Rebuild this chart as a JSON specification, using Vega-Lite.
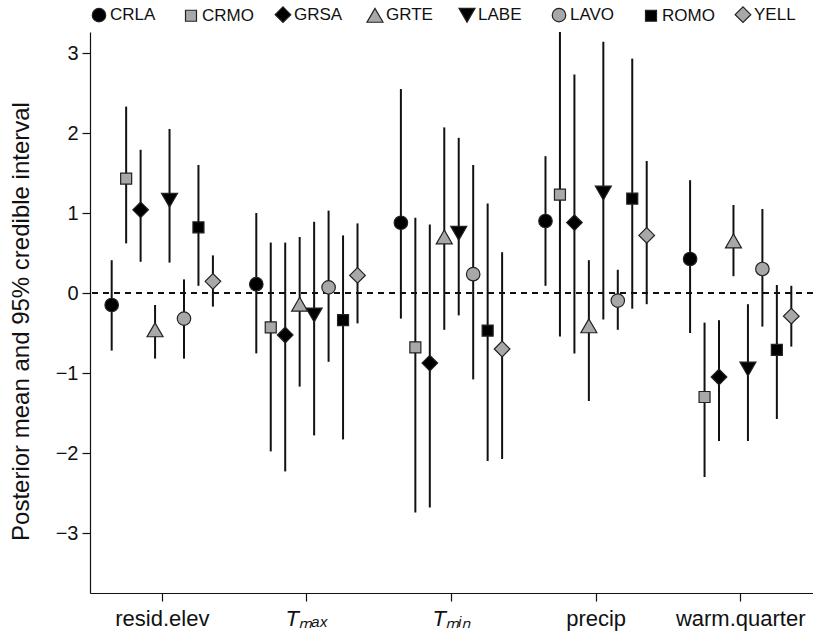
{
  "$schema": "https://vega.github.io/schema/vega-lite/v6.json",
  "autosize": {"type": "none"},
  "padding": {"left": 90, "top": 32, "right": 0, "bottom": 44},
  "width": 723,
  "height": 561,
  "background": "white",
  "config": {
    "font": "Liberation Sans",
    "view": {"stroke": null},
    "axis": {"domainColor": "#111", "tickColor": "#111", "labelColor": "#111", "titleColor": "#111", "grid": false, "tickSize": 8, "labelFont": "Liberation Sans", "titleFont": "Liberation Sans", "labelFontWeight": "normal", "titleFontWeight": "normal"}
  },
  "data": {"values": [
    {"variable": "resid.elev", "site": "CRLA", "mean": -0.15, "lower": -0.72, "upper": 0.41},
    {"variable": "resid.elev", "site": "CRMO", "mean": 1.43, "lower": 0.62, "upper": 2.33},
    {"variable": "resid.elev", "site": "GRSA", "mean": 1.04, "lower": 0.39, "upper": 1.79},
    {"variable": "resid.elev", "site": "GRTE", "mean": -0.46, "lower": -0.82, "upper": -0.15},
    {"variable": "resid.elev", "site": "LABE", "mean": 1.16, "lower": 0.38, "upper": 2.05},
    {"variable": "resid.elev", "site": "LAVO", "mean": -0.32, "lower": -0.82, "upper": 0.17},
    {"variable": "resid.elev", "site": "ROMO", "mean": 0.82, "lower": 0.09, "upper": 1.6},
    {"variable": "resid.elev", "site": "YELL", "mean": 0.146, "lower": -0.17, "upper": 0.47},
    {"variable": "Tmax", "site": "CRLA", "mean": 0.11, "lower": -0.755, "upper": 1.0},
    {"variable": "Tmax", "site": "CRMO", "mean": -0.43, "lower": -1.98, "upper": 0.63},
    {"variable": "Tmax", "site": "GRSA", "mean": -0.525, "lower": -2.23, "upper": 0.63},
    {"variable": "Tmax", "site": "GRTE", "mean": -0.14, "lower": -1.17, "upper": 0.7},
    {"variable": "Tmax", "site": "LABE", "mean": -0.275, "lower": -1.78, "upper": 0.89},
    {"variable": "Tmax", "site": "LAVO", "mean": 0.07, "lower": -0.86, "upper": 1.03},
    {"variable": "Tmax", "site": "ROMO", "mean": -0.34, "lower": -1.83, "upper": 0.72},
    {"variable": "Tmax", "site": "YELL", "mean": 0.22, "lower": -0.38, "upper": 0.87},
    {"variable": "Tmin", "site": "CRLA", "mean": 0.878, "lower": -0.32, "upper": 2.55},
    {"variable": "Tmin", "site": "CRMO", "mean": -0.68, "lower": -2.745, "upper": 0.94},
    {"variable": "Tmin", "site": "GRSA", "mean": -0.876, "lower": -2.68, "upper": 0.856},
    {"variable": "Tmin", "site": "GRTE", "mean": 0.7, "lower": -0.46, "upper": 2.07},
    {"variable": "Tmin", "site": "LABE", "mean": 0.746, "lower": -0.28, "upper": 1.94},
    {"variable": "Tmin", "site": "LAVO", "mean": 0.235, "lower": -1.08, "upper": 1.6},
    {"variable": "Tmin", "site": "ROMO", "mean": -0.47, "lower": -2.1, "upper": 1.12},
    {"variable": "Tmin", "site": "YELL", "mean": -0.7, "lower": -2.075, "upper": 0.51},
    {"variable": "precip", "site": "CRLA", "mean": 0.9, "lower": 0.09, "upper": 1.71},
    {"variable": "precip", "site": "CRMO", "mean": 1.23, "lower": -0.545, "upper": 3.3},
    {"variable": "precip", "site": "GRSA", "mean": 0.88, "lower": -0.755, "upper": 2.73},
    {"variable": "precip", "site": "GRTE", "mean": -0.41, "lower": -1.35, "upper": 0.41},
    {"variable": "precip", "site": "LABE", "mean": 1.25, "lower": -0.33, "upper": 3.14},
    {"variable": "precip", "site": "LAVO", "mean": -0.095, "lower": -0.46, "upper": 0.29},
    {"variable": "precip", "site": "ROMO", "mean": 1.18, "lower": -0.196, "upper": 2.93},
    {"variable": "precip", "site": "YELL", "mean": 0.72, "lower": -0.14, "upper": 1.65},
    {"variable": "warm.quarter", "site": "CRLA", "mean": 0.425, "lower": -0.5, "upper": 1.41},
    {"variable": "warm.quarter", "site": "CRMO", "mean": -1.3, "lower": -2.3, "upper": -0.37},
    {"variable": "warm.quarter", "site": "GRSA", "mean": -1.05, "lower": -1.85, "upper": -0.34},
    {"variable": "warm.quarter", "site": "GRTE", "mean": 0.65, "lower": 0.21, "upper": 1.1},
    {"variable": "warm.quarter", "site": "LABE", "mean": -0.95, "lower": -1.85, "upper": -0.14},
    {"variable": "warm.quarter", "site": "LAVO", "mean": 0.3, "lower": -0.42, "upper": 1.05},
    {"variable": "warm.quarter", "site": "ROMO", "mean": -0.71, "lower": -1.575, "upper": 0.1},
    {"variable": "warm.quarter", "site": "YELL", "mean": -0.29, "lower": -0.67, "upper": 0.09}
  ]},
  "encoding": {
    "x": {
      "field": "variable", "type": "nominal",
      "sort": ["resid.elev", "Tmax", "Tmin", "precip", "warm.quarter"],
      "scale": {"paddingInner": 0, "paddingOuter": 0},
      "axis": {
        "title": null, "labelAngle": 0, "labelFontSize": 22, "labelPadding": 7,
        "labelExpr": "datum.value == 'Tmax' ? 'Tₘₐₓ' : datum.value == 'Tmin' ? 'Tₘᵢₙ' : datum.value",
        "labelFontStyle": {"condition": {"test": "datum.value == 'Tmax' || datum.value == 'Tmin'", "value": "italic"}, "value": "normal"},
        "domainWidth": 1.2, "tickWidth": 1.2
      }
    },
    "xOffset": {
      "field": "site", "type": "nominal",
      "sort": ["CRLA", "CRMO", "GRSA", "GRTE", "LABE", "LAVO", "ROMO", "YELL"],
      "scale": {"paddingInner": 0, "paddingOuter": 1.48}
    }
  },
  "layer": [
    {
      "mark": {"type": "rule", "strokeDash": [6, 5], "color": "#111", "strokeWidth": 1},
      "encoding": {"y": {"datum": 0, "type": "quantitative"}, "x": null, "xOffset": null}
    },
    {
      "mark": {"type": "rule", "color": "#111", "strokeWidth": 2, "clip": true},
      "encoding": {
        "y": {
          "field": "lower", "type": "quantitative",
          "scale": {"domain": [-3.75, 3.2625], "nice": false, "zero": false},
          "axis": {
            "values": [-3, -2, -1, 0, 1, 2, 3], "format": "d",
            "title": "Posterior mean and 95% credible interval",
            "titleFontSize": 24, "labelFontSize": 20, "labelPadding": 4, "titlePadding": 22, "titleY": 289,
            "domainWidth": 1.2, "tickWidth": 1.2
          }
        },
        "y2": {"field": "upper"}
      }
    },
    {
      "mark": {"type": "point", "filled": true, "stroke": "#222", "strokeWidth": 1.2, "opacity": 1},
      "encoding": {
        "y": {"field": "mean", "type": "quantitative"},
        "shape": {
          "field": "site", "type": "nominal",
          "scale": {"domain": ["CRLA", "CRMO", "GRSA", "GRTE", "LABE", "LAVO", "ROMO", "YELL"], "range": ["circle", "square", "diamond", "triangle-up", "triangle-down", "circle", "square", "diamond"]},
          "legend": {
            "title": null, "orient": "none", "direction": "horizontal", "columns": 8,
            "legendX": 0, "legendY": -26, "labelFontSize": 17, "labelFont": "Liberation Sans", "labelColor": "#111",
            "labelOffset": 2, "columnPadding": 17, "gridAlign": "all",
            "symbolStrokeColor": "#222", "symbolStrokeWidth": 1.2
          }
        },
        "fill": {
          "field": "site", "type": "nominal",
          "scale": {"domain": ["CRLA", "CRMO", "GRSA", "GRTE", "LABE", "LAVO", "ROMO", "YELL"], "range": ["#000000", "#a8a8a8", "#000000", "#a8a8a8", "#000000", "#a8a8a8", "#000000", "#a8a8a8"]}
        },
        "size": {
          "field": "site", "type": "nominal",
          "scale": {"type": "ordinal", "domain": ["CRLA", "CRMO", "GRSA", "GRTE", "LABE", "LAVO", "ROMO", "YELL"], "range": [182, 121, 245, 256, 256, 182, 121, 245]}
        }
      }
    }
  ]
}
